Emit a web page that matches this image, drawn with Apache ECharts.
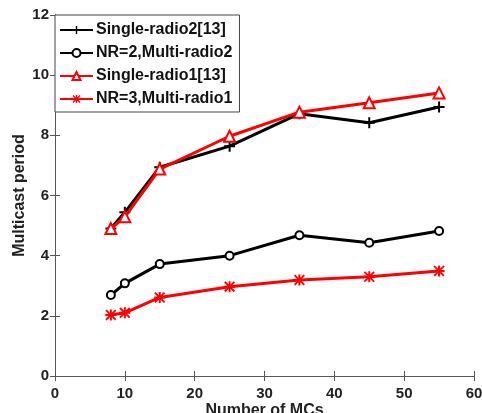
<!DOCTYPE html>
<html>
<head>
<meta charset="utf-8">
<script src="https://cdn.jsdelivr.net/npm/echarts@6/dist/echarts.min.js"></script>
<style>
  html, body { margin: 0; padding: 0; background: #fff; }
  #container { width: 482px; height: 413px; }
</style>
</head>
<body>
<div id="container"></div>
<script>
var mcs = [8, 10, 15, 25, 35, 45, 55];
var singleRadio2 = [4.9, 5.44, 6.94, 7.64, 8.72, 8.42, 8.94];
var nr2Multi = [2.69, 3.08, 3.72, 4.0, 4.68, 4.43, 4.82];
var singleRadio1 = [4.9, 5.29, 6.88, 7.97, 8.77, 9.08, 9.41];
var nr3Multi = [2.03, 2.1, 2.61, 2.97, 3.19, 3.3, 3.49];
var names = ["Single-radio2[13]", "NR=2,Multi-radio2", "Single-radio1[13]", "NR=3,Multi-radio1"];

var plusPath = "path://M4.1,0h1.8v4.1h4.1v1.8h-4.1v4.1h-1.8v-4.1h-4.1v-1.8h4.1z";
var starPath = "path://M4.1,0h1.8v10h-1.8z M0,4.1h10v1.8h-10z M1.2,0L10,8.8L8.8,10L0,1.2z M8.8,0L10,1.2L1.2,10L0,8.8z";

function pairs(ys) {
  return mcs.map(function (x, i) { return [x, ys[i]]; });
}

var font = "Liberation Sans, Arial, sans-serif";
var axisLabel = { color: "#222", fontWeight: "bold", fontSize: 15, fontFamily: font };

var dom = document.getElementById("container");
var myChart = echarts.init(dom, null, { renderer: "canvas" });

var option = {
  animation: false,
  backgroundColor: "#fff",
  grid: { left: 55, right: 8, top: 15, bottom: 37, outerBoundsMode: "none", containLabel: false },
  legend: {
    orient: "vertical",
    left: 55,
    top: 15,
    padding: [7, 7, 5, 4],
    itemGap: 7,
    itemWidth: 33,
    itemHeight: 10,
    backgroundColor: "#fff",
    borderColor: "#444",
    borderWidth: 1,
    borderRadius: 0,
    textStyle: { color: "#111", fontWeight: "bold", fontSize: 16, fontFamily: font, padding: [0, 0, 0, -2] },
    data: names
  },
  xAxis: [
    {
      type: "value", min: 0, max: 60, interval: 10,
      name: "Number of MCs", nameLocation: "middle", nameGap: 27, nameMoveOverlap: false,
      nameTextStyle: { color: "#222", fontWeight: "bold", fontSize: 16, fontFamily: font },
      axisLine: { show: true, lineStyle: { color: "#555", width: 1 } },
      axisTick: { show: true, inside: true, length: 5, lineStyle: { color: "#555" } },
      axisLabel: Object.assign({ margin: 10 }, axisLabel),
      splitLine: { show: false }
    },
    {
      type: "value", min: 0, max: 60, interval: 10, position: "top",
      axisLine: { show: true, lineStyle: { color: "#555", width: 1 } },
      axisTick: { show: true, inside: true, length: 5, lineStyle: { color: "#555" } },
      axisLabel: { show: false },
      splitLine: { show: false }
    }
  ],
  yAxis: [
    {
      type: "value", min: 0, max: 12, interval: 2,
      name: "Multicast period", nameLocation: "middle", nameGap: 27, nameMoveOverlap: false,
      nameTextStyle: { color: "#222", fontWeight: "bold", fontSize: 16, fontFamily: font },
      axisLine: { show: true, lineStyle: { color: "#555", width: 1 } },
      axisTick: { show: true, inside: true, length: 5, lineStyle: { color: "#555" } },
      axisLabel: Object.assign({ margin: 6 }, axisLabel),
      splitLine: { show: false }
    },
    {
      type: "value", min: 0, max: 12, interval: 2, position: "right",
      axisLine: { show: true, lineStyle: { color: "#555", width: 1 } },
      axisTick: { show: true, inside: true, length: 5, lineStyle: { color: "#555" } },
      axisLabel: { show: false },
      splitLine: { show: false }
    }
  ],
  series: [
    {
      name: names[0], type: "line", data: pairs(singleRadio2),
      symbol: plusPath, symbolSize: 11, showAllSymbol: true,
      lineStyle: { color: "#000", width: 3 },
      itemStyle: { color: "#000" }, z: 2
    },
    {
      name: names[1], type: "line", data: pairs(nr2Multi),
      symbol: "emptyCircle", symbolSize: 8,
      lineStyle: { color: "#000", width: 3 },
      itemStyle: { color: "#000", borderColor: "#000", borderWidth: 2 }, z: 2
    },
    {
      name: names[2], type: "line", data: pairs(singleRadio1),
      symbol: "emptyTriangle", symbolSize: 11,
      lineStyle: { color: "#f00", width: 3 },
      itemStyle: { color: "#f00", borderColor: "#f00", borderWidth: 2 }, z: 3
    },
    {
      name: names[3], type: "line", data: pairs(nr3Multi),
      symbol: starPath, symbolSize: 11,
      lineStyle: { color: "#f00", width: 3 },
      itemStyle: { color: "#f00" }, z: 3
    }
  ]
};

myChart.setOption(option);
</script>
</body>
</html>
